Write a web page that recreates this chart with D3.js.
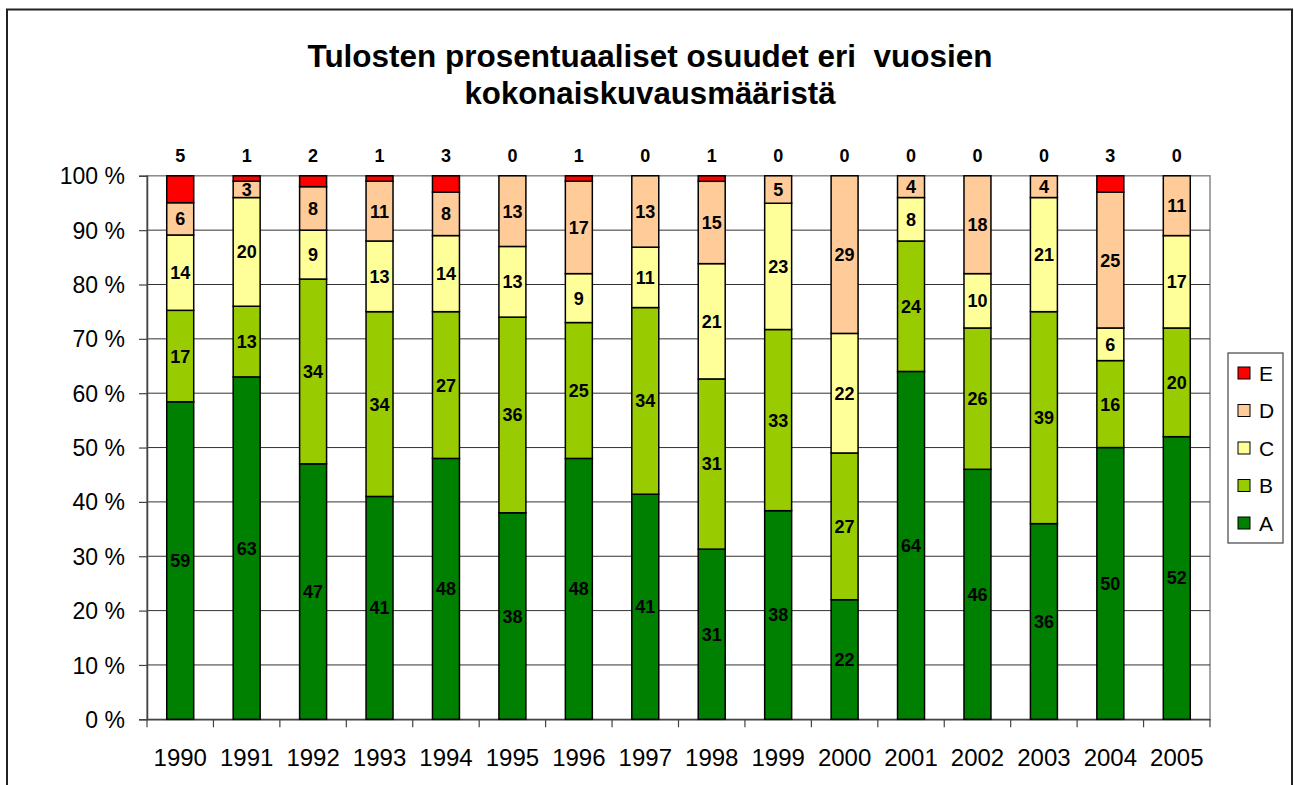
<!DOCTYPE html>
<html>
<head>
<meta charset="utf-8">
<script src="https://cdn.jsdelivr.net/npm/d3@7/dist/d3.min.js"></script>
<style>
  html, body { margin: 0; padding: 0; background: #fff; }
  svg { display: block; font-family: "Liberation Sans", Arial, sans-serif; }
</style>
</head>
<body>
<svg id="chart" width="1294" height="785"></svg>
<script>
const years = ["1990","1991","1992","1993","1994","1995","1996","1997","1998","1999","2000","2001","2002","2003","2004","2005"];
const seriesNames = ["A","B","C","D","E"];
const valuesA = [59,63,47,41,48,38,48,41,31,38,22,64,46,36,50,52];
const valuesB = [17,13,34,34,27,36,25,34,31,33,27,24,26,39,16,20];
const valuesC = [14,20,9,13,14,13,9,11,21,23,22,8,10,21,6,17];
const valuesD = [6,3,8,11,8,13,17,13,15,5,29,4,18,4,25,11];
const valuesE = [5,1,2,1,3,0,1,0,1,0,0,0,0,0,3,0];
const yTicks = [0,10,20,30,40,50,60,70,80,90,100];
const titleLines = ["Tulosten prosentuaaliset osuudet eri  vuosien", "kokonaiskuvausmääristä"];
const colors = {A:"#008000", B:"#99CC00", C:"#FFFF99", D:"#FFCC99", E:"#FF0000"};

const seriesValues = {A:valuesA, B:valuesB, C:valuesC, D:valuesD, E:valuesE};
const rows = years.map((y,i) => {
  const r = {year:y};
  seriesNames.forEach(s => r[s] = seriesValues[s][i]);
  return r;
});
const stack = d3.stack().keys(seriesNames).offset(d3.stackOffsetExpand);
const stacked = stack(rows);

const svg = d3.select("#chart");
const plot = {left:147, right:1210, top:175.8, bottom:719.3};

// outer chart border
svg.append("rect").attr("x",7).attr("y",9.5).attr("width",1285).attr("height",800)
  .attr("fill","none").attr("stroke","#222").attr("stroke-width",2);

// title
const title = svg.append("g");
title.append("text").attr("x",650).attr("y",67).attr("text-anchor","middle")
  .attr("font-size",32).attr("font-weight","bold")
  .attr("textLength",685).attr("lengthAdjust","spacingAndGlyphs")
  .style("white-space","pre").text(titleLines[0]);
title.append("text").attr("x",650).attr("y",104).attr("text-anchor","middle")
  .attr("font-size",32).attr("font-weight","bold")
  .attr("textLength",371).attr("lengthAdjust","spacingAndGlyphs")
  .text(titleLines[1]);

const x = d3.scaleBand().domain(years).range([plot.left, plot.right])
  .paddingInner(0.594).paddingOuter(0.297);
const y = d3.scaleLinear().domain([0,1]).range([plot.bottom, plot.top]);

// plot border (gray)
svg.append("rect").attr("x",plot.left).attr("y",plot.top)
  .attr("width",plot.right-plot.left).attr("height",plot.bottom-plot.top)
  .attr("fill","none").attr("stroke","#888").attr("stroke-width",1.5);

// gridlines
svg.append("g").selectAll("line").data(yTicks.filter(t => t>0 && t<100)).join("line")
  .attr("x1",plot.left).attr("x2",plot.right)
  .attr("y1",d=>y(d/100)).attr("y2",d=>y(d/100))
  .attr("stroke","#333").attr("stroke-width",1);

// y axis
const yAxis = d3.axisLeft(y).tickValues(yTicks.map(t=>t/100))
  .tickFormat(d => Math.round(d*100) + " %").tickSize(8).tickPadding(14);
const gy = svg.append("g").attr("transform",`translate(${plot.left},0)`).call(yAxis);
gy.select(".domain").attr("stroke","#444").attr("stroke-width",1.5);
gy.selectAll(".tick line").attr("stroke","#444").attr("stroke-width",1.2);
gy.selectAll("text").attr("font-size",23).attr("fill","#000")
  .attr("font-family","'Liberation Sans', Arial, sans-serif").attr("dy","0.35em");

// x axis
const xAxis = d3.axisBottom(x).tickSize(0).tickPadding(30);
const gx = svg.append("g").attr("transform",`translate(0,${plot.bottom})`).call(xAxis);
gx.select(".domain").attr("stroke","#444").attr("stroke-width",1.5);
gx.selectAll("text").attr("font-size",24).attr("fill","#000")
  .attr("font-family","'Liberation Sans', Arial, sans-serif");
// category boundary ticks
const step = x.step();
gx.append("g").selectAll("line").data(d3.range(years.length+1)).join("line")
  .attr("x1",i=>plot.left + i*(plot.right-plot.left)/years.length)
  .attr("x2",i=>plot.left + i*(plot.right-plot.left)/years.length)
  .attr("y1",0).attr("y2",8).attr("stroke","#444").attr("stroke-width",1.2);

// bars
const layers = svg.append("g").selectAll("g").data(stacked).join("g")
  .attr("fill", d => colors[d.key]);
layers.selectAll("rect").data(d => d.map(p => ({p, key:d.key}))).join("rect")
  .attr("x", d => x(d.p.data.year))
  .attr("width", x.bandwidth())
  .attr("y", d => y(d.p[1]))
  .attr("height", d => Math.max(0, y(d.p[0]) - y(d.p[1])))
  .attr("stroke", d => (d.p[1]-d.p[0]) > 0 ? "#000" : "none")
  .attr("stroke-width", 1.5);

// labels inside bars (A-D)
const labelG = svg.append("g").attr("font-weight","bold").attr("font-size",18)
  .attr("text-anchor","middle").attr("fill","#000");
stacked.forEach(layer => {
  if (layer.key === "E") return;
  layer.forEach(p => {
    const v = p.data[layer.key];
    if (v <= 0) return;
    labelG.append("text")
      .attr("x", x(p.data.year) + x.bandwidth()/2)
      .attr("y", (y(p[0]) + y(p[1]))/2)
      .attr("dy","0.36em")
      .text(v);
  });
});
// E labels above the plot
stacked.find(l => l.key === "E").forEach(p => {
  labelG.append("text")
    .attr("x", x(p.data.year) + x.bandwidth()/2)
    .attr("y", 162)
    .text(p.data.E);
});

// legend
const legend = svg.append("g");
legend.append("rect").attr("x",1228).attr("y",353).attr("width",55).attr("height",190)
  .attr("fill","#fff").attr("stroke","#444").attr("stroke-width",1.2);
const legendItems = seriesNames.slice().reverse();
const ly = d3.scalePoint().domain(legendItems).range([373, 523]);
legendItems.forEach(s => {
  legend.append("rect").attr("x",1238).attr("y",ly(s)-6).attr("width",12).attr("height",12)
    .attr("fill",colors[s]).attr("stroke","#000").attr("stroke-width",1);
  legend.append("text").attr("x",1259).attr("y",ly(s)).attr("dy","0.36em")
    .attr("font-size",21).attr("fill","#000").text(s);
});
</script>
</body>
</html>
